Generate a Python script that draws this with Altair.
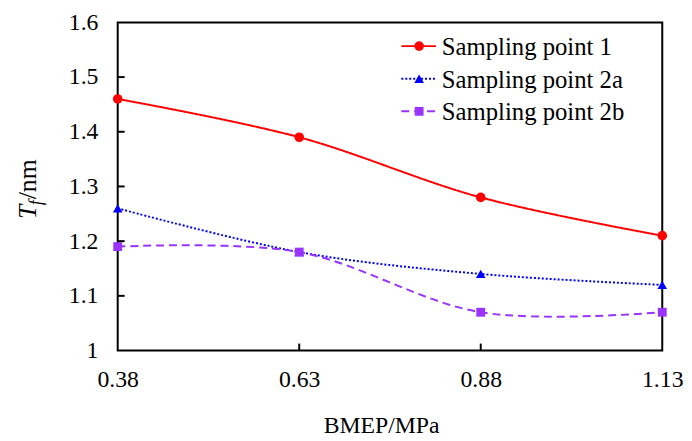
import altair as alt
import pandas as pd

# ---- data ----
bmep = [0.38, 0.63, 0.88, 1.13]
sp1 = [1.46, 1.39, 1.28, 1.21]
sp2a = [1.26, 1.18, 1.14, 1.12]
sp2b = [1.19, 1.18, 1.07, 1.07]
series_names = ["Sampling point 1", "Sampling point 2a", "Sampling point 2b"]
x_ticks = [0.38, 0.63, 0.88, 1.13]
y_ticks = [1.0, 1.1, 1.2, 1.3, 1.4, 1.5, 1.6]
x_title = ["BMEP/MPa"]

colors = ["#FF0000", "#0000FF", "#9933FF"]
dashes = [[1, 0], [2, 2], [8, 5]]
shapes = ["circle", "triangle-up", "square"]
sizes = [95, 95, 80]

FONT = "Liberation Serif"
W, H = 551, 332
xs = alt.Scale(domain=[0.38, 1.13], nice=False, zero=False)
ys = alt.Scale(domain=[1.0, 1.6], nice=False, zero=False)

x_axis = alt.Axis(values=x_ticks, format=".2f", tickSize=0, domain=False, grid=False,
                  labelFont=FONT, labelFontSize=24, labelColor="black", labelPadding=17,
                  labelFlush=False, title=None)
y_axis = alt.Axis(values=y_ticks, format=".1~f", tickSize=0, domain=False, grid=False,
                  labelFont=FONT, labelFontSize=24, labelColor="black", labelPadding=20,
                  labelFlush=False, title=None)


def X(field):
    return alt.X(field, type="quantitative", scale=xs, axis=x_axis)


def Y(field):
    return alt.Y(field, type="quantitative", scale=ys, axis=y_axis)


layers = []
all_vals = [sp1, sp2a, sp2b]
for i, (name, vals) in enumerate(zip(series_names, all_vals)):
    df = pd.DataFrame({"x": bmep, "y": vals, "s": name})
    base = alt.Chart(df)
    line = base.mark_line(color=colors[i], strokeWidth=2, strokeDash=dashes[i],
                          interpolate="cardinal").encode(x=X("x"), y=Y("y"))
    pts = base.mark_point(shape=shapes[i], filled=True, color=colors[i], opacity=1,
                          size=sizes[i]).encode(x=X("x"), y=Y("y"))
    layers += [line, pts]

# inward ticks
ytk = alt.Chart(pd.DataFrame({"v": y_ticks[1:-1]})).mark_rule(color="black", strokeWidth=2).encode(
    y=Y("v"), x=alt.value(0), x2=alt.value(7))
xtk = alt.Chart(pd.DataFrame({"v": x_ticks[1:-1]})).mark_rule(color="black", strokeWidth=2).encode(
    x=X("v"), y=alt.value(H), y2=alt.value(H - 7))
layers += [ytk, xtk]

# legend
leg_y = [24, 57, 90]
for i, name in enumerate(series_names):
    d = pd.DataFrame({"name": [name]})
    c = alt.Chart(d)
    layers.append(c.mark_rule(color=colors[i], strokeWidth=2, strokeDash=dashes[i]).encode(
        x=alt.value(287), x2=alt.value(322), y=alt.value(leg_y[i])))
    layers.append(c.mark_point(shape=shapes[i], filled=True, color=colors[i], opacity=1,
                               size=sizes[i]).encode(x=alt.value(305), y=alt.value(leg_y[i])))
    layers.append(c.mark_text(align="left", baseline="middle", font=FONT, fontSize=25,
                              color="black").encode(
        text="name:N", x=alt.value(328), y=alt.value(leg_y[i] + 1)))

# titles
t1 = alt.Chart(pd.DataFrame({"t": ["T"]})).mark_text(
    angle=270, align="left", baseline="alphabetic", font=FONT, fontSize=26,
    fontStyle="italic", color="black").encode(text="t:N", x=alt.value(-83), y=alt.value(199))
t2 = alt.Chart(pd.DataFrame({"t": ["f"]})).mark_text(
    angle=270, align="left", baseline="alphabetic", font=FONT, fontSize=18,
    fontStyle="italic", color="black").encode(text="t:N", x=alt.value(-77), y=alt.value(185))
t3 = alt.Chart(pd.DataFrame({"t": ["/nm"]})).mark_text(
    angle=270, align="left", baseline="alphabetic", font=FONT, fontSize=26,
    color="black").encode(text="t:N", x=alt.value(-83), y=alt.value(179))
xt = alt.Chart(pd.DataFrame({"t": x_title})).mark_text(
    align="center", baseline="alphabetic", font=FONT, fontSize=24,
    color="black").encode(text="t:N", x=alt.value(267), y=alt.value(415))
layers += [t1, t2, t3, xt]

chart = alt.layer(*layers).properties(
    width=W, height=H,
    background="white",
    autosize=alt.AutoSizeParams(type="none"),
    padding={"left": 111, "top": 12, "right": 22, "bottom": 90},
).configure_view(stroke="black", strokeWidth=2)

chart.save("out.html", embed_options={"renderer": "svg", "actions": False})
